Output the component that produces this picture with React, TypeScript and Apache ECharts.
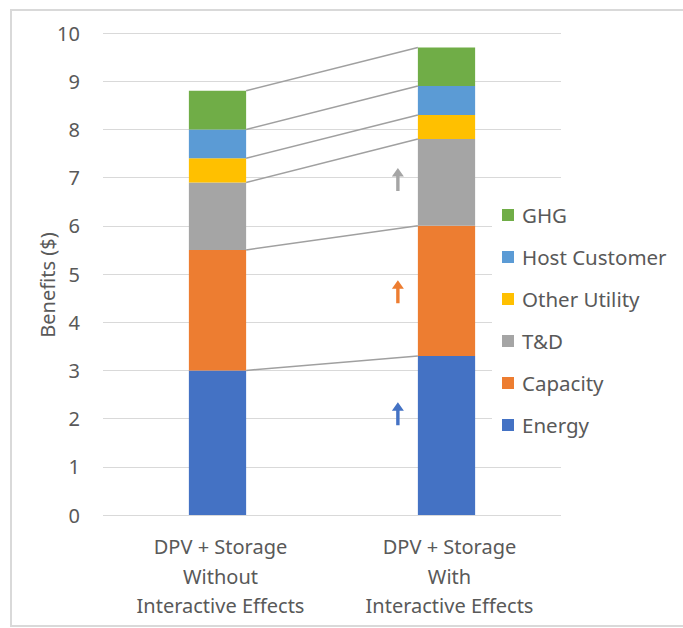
import React, { useEffect, useRef } from "react";
import * as echarts from "echarts";

const categories = [
  "DPV + Storage\nWithout\nInteractive Effects",
  "DPV + Storage\nWith\nInteractive Effects",
];
const seriesNames = ["Energy", "Capacity", "T&D", "Other Utility", "Host Customer", "GHG"];
const energy = [3.0, 3.3];
const capacity = [2.5, 2.7];
const tnd = [1.4, 1.8];
const otherUtility = [0.5, 0.5];
const hostCustomer = [0.6, 0.6];
const ghg = [0.8, 0.8];
const colors = ["#4472C4", "#ED7D31", "#A5A5A5", "#FFC000", "#5B9BD5", "#70AD47"];
const yTicks = [0, 1, 2, 3, 4, 5, 6, 7, 8, 9, 10];
// arrows: [series index, value]
const arrowSeries = [0, 1, 2];
const arrowValues = [2.1, 4.63, 6.96];

const FONT = "'Noto Sans', 'Open Sans', sans-serif";
const TEXT = "#595959";

export default function App() {
  const ref = useRef<HTMLDivElement>(null);
  useEffect(() => {
    if (!ref.current) return;
    const chart = echarts.init(ref.current, null, { renderer: "svg" });
    const stacks = [energy, capacity, tnd, otherUtility, hostCustomer, ghg];
    const cum: number[][] = [];
    let a = 0, b = 0;
    stacks.forEach((s) => {
      a += s[0];
      b += s[1];
      cum.push([0, +a.toFixed(2), +b.toFixed(2)]);
    });
    const barSeries = stacks.map((d, i) => ({
      name: seriesNames[i],
      type: "bar",
      stack: "total",
      barWidth: "25%",
      data: d,
      itemStyle: { color: colors[i] },
      z: 2,
    }));
    const option: any = {
      animation: false,
      textStyle: { fontFamily: FONT },
      grid: { left: 103, right: 122, top: 33, bottom: 113 },
      xAxis: {
        type: "category",
        data: categories,
        axisLine: { show: false },
        axisTick: { show: false },
        axisLabel: {
          color: TEXT,
          fontSize: 20,
          lineHeight: 29.5,
          margin: 17,
          fontFamily: FONT,
          interval: 0,
          padding: [0, 0, 0, 6],
        },
      },
      yAxis: {
        type: "value",
        min: yTicks[0],
        max: yTicks[yTicks.length - 1],
        interval: 1,
        axisLine: { show: false },
        axisTick: { show: false },
        axisLabel: { color: TEXT, fontSize: 20, margin: 23, fontFamily: FONT },
        splitLine: { lineStyle: { color: "#D9D9D9", width: 1.2 } },
      },
      legend: {
        orient: "vertical",
        left: 492,
        top: 194,
        padding: [10, 5, 10, 10],
        backgroundColor: "#ffffff",
        itemWidth: 12,
        itemHeight: 12,
        itemGap: 20,
        icon: "rect",
        data: [...seriesNames].reverse(),
        textStyle: {
          color: TEXT,
          fontSize: 20.5,
          lineHeight: 22,
          height: 22,
          fontFamily: FONT,
          padding: [0, 0, 0, 3],
        },
        z: 10,
      },
      graphic: [
        {
          type: "rect",
          shape: { x: 11, y: 10, width: 700, height: 616 },
          style: { fill: "none", stroke: "#D9D9D9", lineWidth: 2 },
          silent: true,
        },
        {
          type: "text",
          x: 47,
          y: 285,
          rotation: Math.PI / 2,
          style: {
            text: "Benefits ($)",
            fill: TEXT,
            fontSize: 20,
            fontFamily: FONT,
            align: "center",
            verticalAlign: "middle",
          },
        },
      ],
      series: [
        ...barSeries,
        {
          type: "custom",
          name: "connectors",
          data: cum,
          z: 3,
          silent: true,
          encode: { x: 0, y: 1 },
          renderItem: (params: any, api: any) => {
            const p1 = api.coord([0, api.value(1)]);
            const p2 = api.coord([1, api.value(2)]);
            const half = (api.size([1, 0])[0] * 0.25) / 2;
            return {
              type: "line",
              shape: { x1: p1[0] + half, y1: p1[1], x2: p2[0] - half, y2: p2[1] },
              style: { stroke: "#A0A0A0", lineWidth: 1.5 },
            };
          },
        },
        {
          type: "custom",
          name: "arrows",
          data: arrowValues.map((v, i) => [1, v, arrowSeries[i]]),
          z: 4,
          silent: true,
          encode: { x: 0, y: 1 },
          renderItem: (params: any, api: any) => {
            const p = api.coord([1, api.value(1)]);
            const half = (api.size([1, 0])[0] * 0.25) / 2;
            const cx = p[0] - half - 20;
            const cy = p[1];
            const col = colors[api.value(2)];
            return {
              type: "polygon",
              shape: {
                points: [
                  [cx, cy - 11.5],
                  [cx + 6, cy - 3],
                  [cx + 1.7, cy - 3],
                  [cx + 1.7, cy + 11.5],
                  [cx - 1.7, cy + 11.5],
                  [cx - 1.7, cy - 3],
                  [cx - 6, cy - 3],
                ],
              },
              style: { fill: col },
            };
          },
        },
      ],
    };
    chart.setOption(option);
    return () => chart.dispose();
  }, []);
  return (
    <div
      ref={ref}
      style={{ position: "absolute", left: 0, top: 0, width: 683, height: 628, background: "#fff" }}
    />
  );
}
